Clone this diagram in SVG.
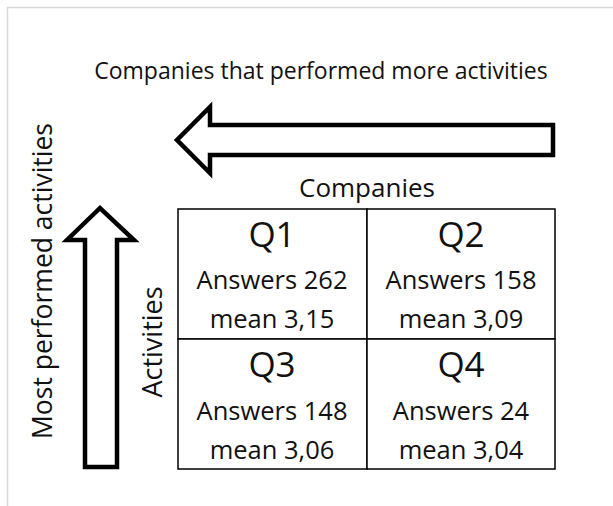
<svg xmlns="http://www.w3.org/2000/svg" width="613" height="506" viewBox="0 0 613 506">
<style>
text{font-family:"Open Sans","DejaVu Sans",sans-serif;fill:#111;text-anchor:middle}
.q{font-size:35px}
.v{font-size:25.5px}
.arrow{fill:#fff;stroke:#000;stroke-width:4.5;stroke-linejoin:miter}
.cell{fill:#fff;stroke:#000;stroke-width:1.5}
</style>
<rect width="613" height="506" fill="#fff"/>
<path d="M7.5 506V7.5H613" fill="none" stroke="#d9d9d9" stroke-width="1.5"/>
<text x="321" y="79" style="font-size:23px">Companies that performed more activities</text>
<g id="arrow-left"><path class="arrow" d="M553 125H210V107L177 140L210 173V155H553Z"/></g>
<g id="arrow-up"><path class="arrow" d="M85 467V240H67L100 208L134 240H117V467Z"/></g>
<text x="367" y="197" style="font-size:26px">Companies</text>
<text transform="translate(52 281) rotate(-90)" style="font-size:26.5px">Most performed activities</text>
<text transform="translate(162 342) rotate(-90)" style="font-size:27px">Activities</text>
<g id="q1"><rect class="cell" x="178" y="209" width="189" height="130"/><text class="q" x="272" y="247">Q1</text><text class="v" x="272" y="289">Answers 262</text><text class="v" x="272" y="328">mean 3,15</text></g>
<g id="q2"><rect class="cell" x="367" y="209" width="188" height="130"/><text class="q" x="461" y="247">Q2</text><text class="v" x="461" y="289">Answers 158</text><text class="v" x="461" y="328">mean 3,09</text></g>
<g id="q3"><rect class="cell" x="178" y="339" width="189" height="130"/><text class="q" x="272" y="377">Q3</text><text class="v" x="272" y="420">Answers 148</text><text class="v" x="272" y="459">mean 3,06</text></g>
<g id="q4"><rect class="cell" x="367" y="339" width="188" height="130"/><text class="q" x="461" y="377">Q4</text><text class="v" x="461" y="420">Answers 24</text><text class="v" x="461" y="459">mean 3,04</text></g>
<g id="connectors"></g>
</svg>
